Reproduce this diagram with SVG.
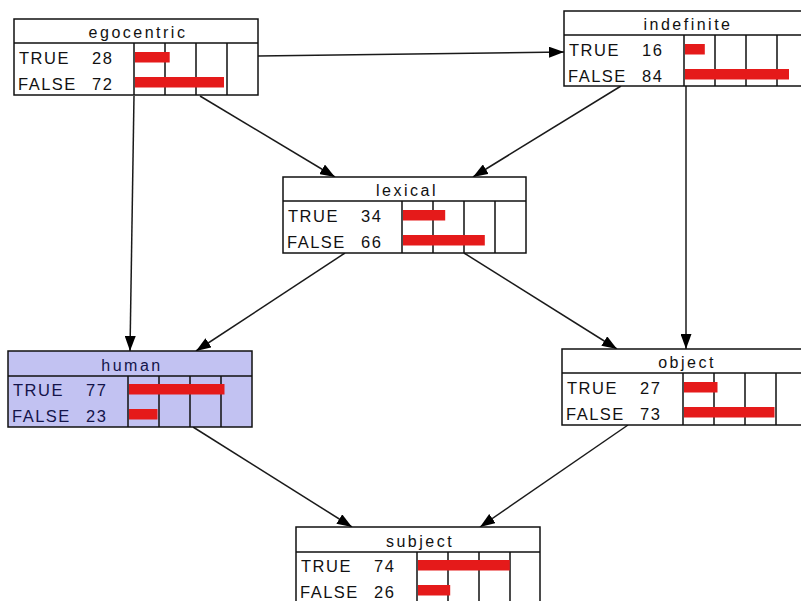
<svg xmlns="http://www.w3.org/2000/svg" width="801" height="601" viewBox="0 0 801 601">
<defs>
<style>
.box{fill:#ffffff;stroke:#111;stroke-width:1.5}
.hum .box{fill:#c2c2f2}
.ln{stroke:#111;stroke-width:1.5;fill:none}
.bar{fill:#e51a1a}
text{font-family:"Liberation Sans",Arial,sans-serif;font-size:16.5px;letter-spacing:1.5px;fill:#111}
.hum text{fill:#14144a}
.t{text-anchor:middle;font-size:16px;letter-spacing:2.5px}
.c{stroke:#1a1a1a;stroke-width:1.5;fill:none;marker-end:url(#ah)}
</style>
<marker id="ah" viewBox="0 0 15 11" refX="15" refY="5.5" markerWidth="15" markerHeight="11" markerUnits="userSpaceOnUse" orient="auto">
<path d="M0,0 L15,5.5 L0,11 z" fill="#000"/>
</marker>
</defs>
<rect width="801" height="601" fill="#ffffff"/>

<g id="connectors">
<path class="c" d="M258,56 L564,52"/>
<path class="c" d="M200,96 L335,177"/>
<path class="c" d="M134,96 L130,351"/>
<path class="c" d="M621,86 L473,177"/>
<path class="c" d="M686,86 L686,349"/>
<path class="c" d="M345,253 L196,351"/>
<path class="c" d="M464,253 L617,349"/>
<path class="c" d="M193,427 L352,527"/>
<path class="c" d="M628,425 L480,527"/>
</g>

<g id="egocentric" transform="translate(14,19)">
<rect class="box" x="0" y="0" width="244" height="76"/>
<path class="ln" d="M0,24 H244 M120,24 V76 M151,24 V76 M182,24 V76 M213,24 V76"/>
<text class="t" x="124" y="19">egocentric</text>
<rect class="bar" x="121" y="33" width="34.7" height="10.5"/>
<rect class="bar" x="121" y="58" width="89" height="10.5"/>
<text x="5" y="45">TRUE</text><text x="78" y="45">28</text>
<text x="4" y="71">FALSE</text><text x="78" y="71">72</text>
</g>

<g id="indefinite" transform="translate(564,11)">
<rect class="box" x="0" y="0" width="244" height="75"/>
<path class="ln" d="M0,24 H244 M120,24 V75 M151,24 V75 M182,24 V75 M213,24 V75"/>
<text class="t" x="124" y="19">indefinite</text>
<rect class="bar" x="121" y="33" width="19.8" height="10.5"/>
<rect class="bar" x="121" y="58" width="104" height="10.5"/>
<text x="5" y="45">TRUE</text><text x="78" y="45">16</text>
<text x="4" y="71">FALSE</text><text x="78" y="71">84</text>
</g>

<g id="lexical" transform="translate(283,177)">
<rect class="box" x="0" y="0" width="243" height="76"/>
<path class="ln" d="M0,24 H243 M119,24 V76 M150,24 V76 M181,24 V76 M212,24 V76"/>
<text class="t" x="124" y="19">lexical</text>
<rect class="bar" x="120" y="33" width="42.2" height="10.5"/>
<rect class="bar" x="120" y="58" width="81.8" height="10.5"/>
<text x="5" y="45">TRUE</text><text x="78" y="45">34</text>
<text x="4" y="71">FALSE</text><text x="78" y="71">66</text>
</g>

<g id="human" class="hum" transform="translate(8,351)">
<rect class="box" x="0" y="0" width="244" height="76"/>
<path class="ln" d="M0,25 H244 M120,25 V76 M151,25 V76 M182,25 V76 M213,25 V76"/>
<text class="t" x="124" y="20">human</text>
<rect class="bar" x="121" y="33" width="95.5" height="10.5"/>
<rect class="bar" x="121" y="58" width="28.5" height="10.5"/>
<text x="5" y="45">TRUE</text><text x="78" y="45">77</text>
<text x="4" y="71">FALSE</text><text x="78" y="71">23</text>
</g>

<g id="object" transform="translate(562,349)">
<rect class="box" x="0" y="0" width="246" height="76"/>
<path class="ln" d="M0,24 H246 M121,24 V76 M152,24 V76 M183,24 V76 M214,24 V76"/>
<text class="t" x="125" y="19">object</text>
<rect class="bar" x="122" y="33" width="33.5" height="10.5"/>
<rect class="bar" x="122" y="58" width="90.5" height="10.5"/>
<text x="5" y="45">TRUE</text><text x="78" y="45">27</text>
<text x="4" y="71">FALSE</text><text x="78" y="71">73</text>
</g>

<g id="subject" transform="translate(296,527)">
<rect class="box" x="0" y="0" width="244" height="76"/>
<path class="ln" d="M0,25 H244 M121,25 V76 M152,25 V76 M183,25 V76 M214,25 V76"/>
<text class="t" x="124" y="20">subject</text>
<rect class="bar" x="122" y="33" width="91.8" height="10.5"/>
<rect class="bar" x="122" y="58" width="32.2" height="10.5"/>
<text x="5" y="45">TRUE</text><text x="78" y="45">74</text>
<text x="4" y="71">FALSE</text><text x="78" y="71">26</text>
</g>
</svg>
